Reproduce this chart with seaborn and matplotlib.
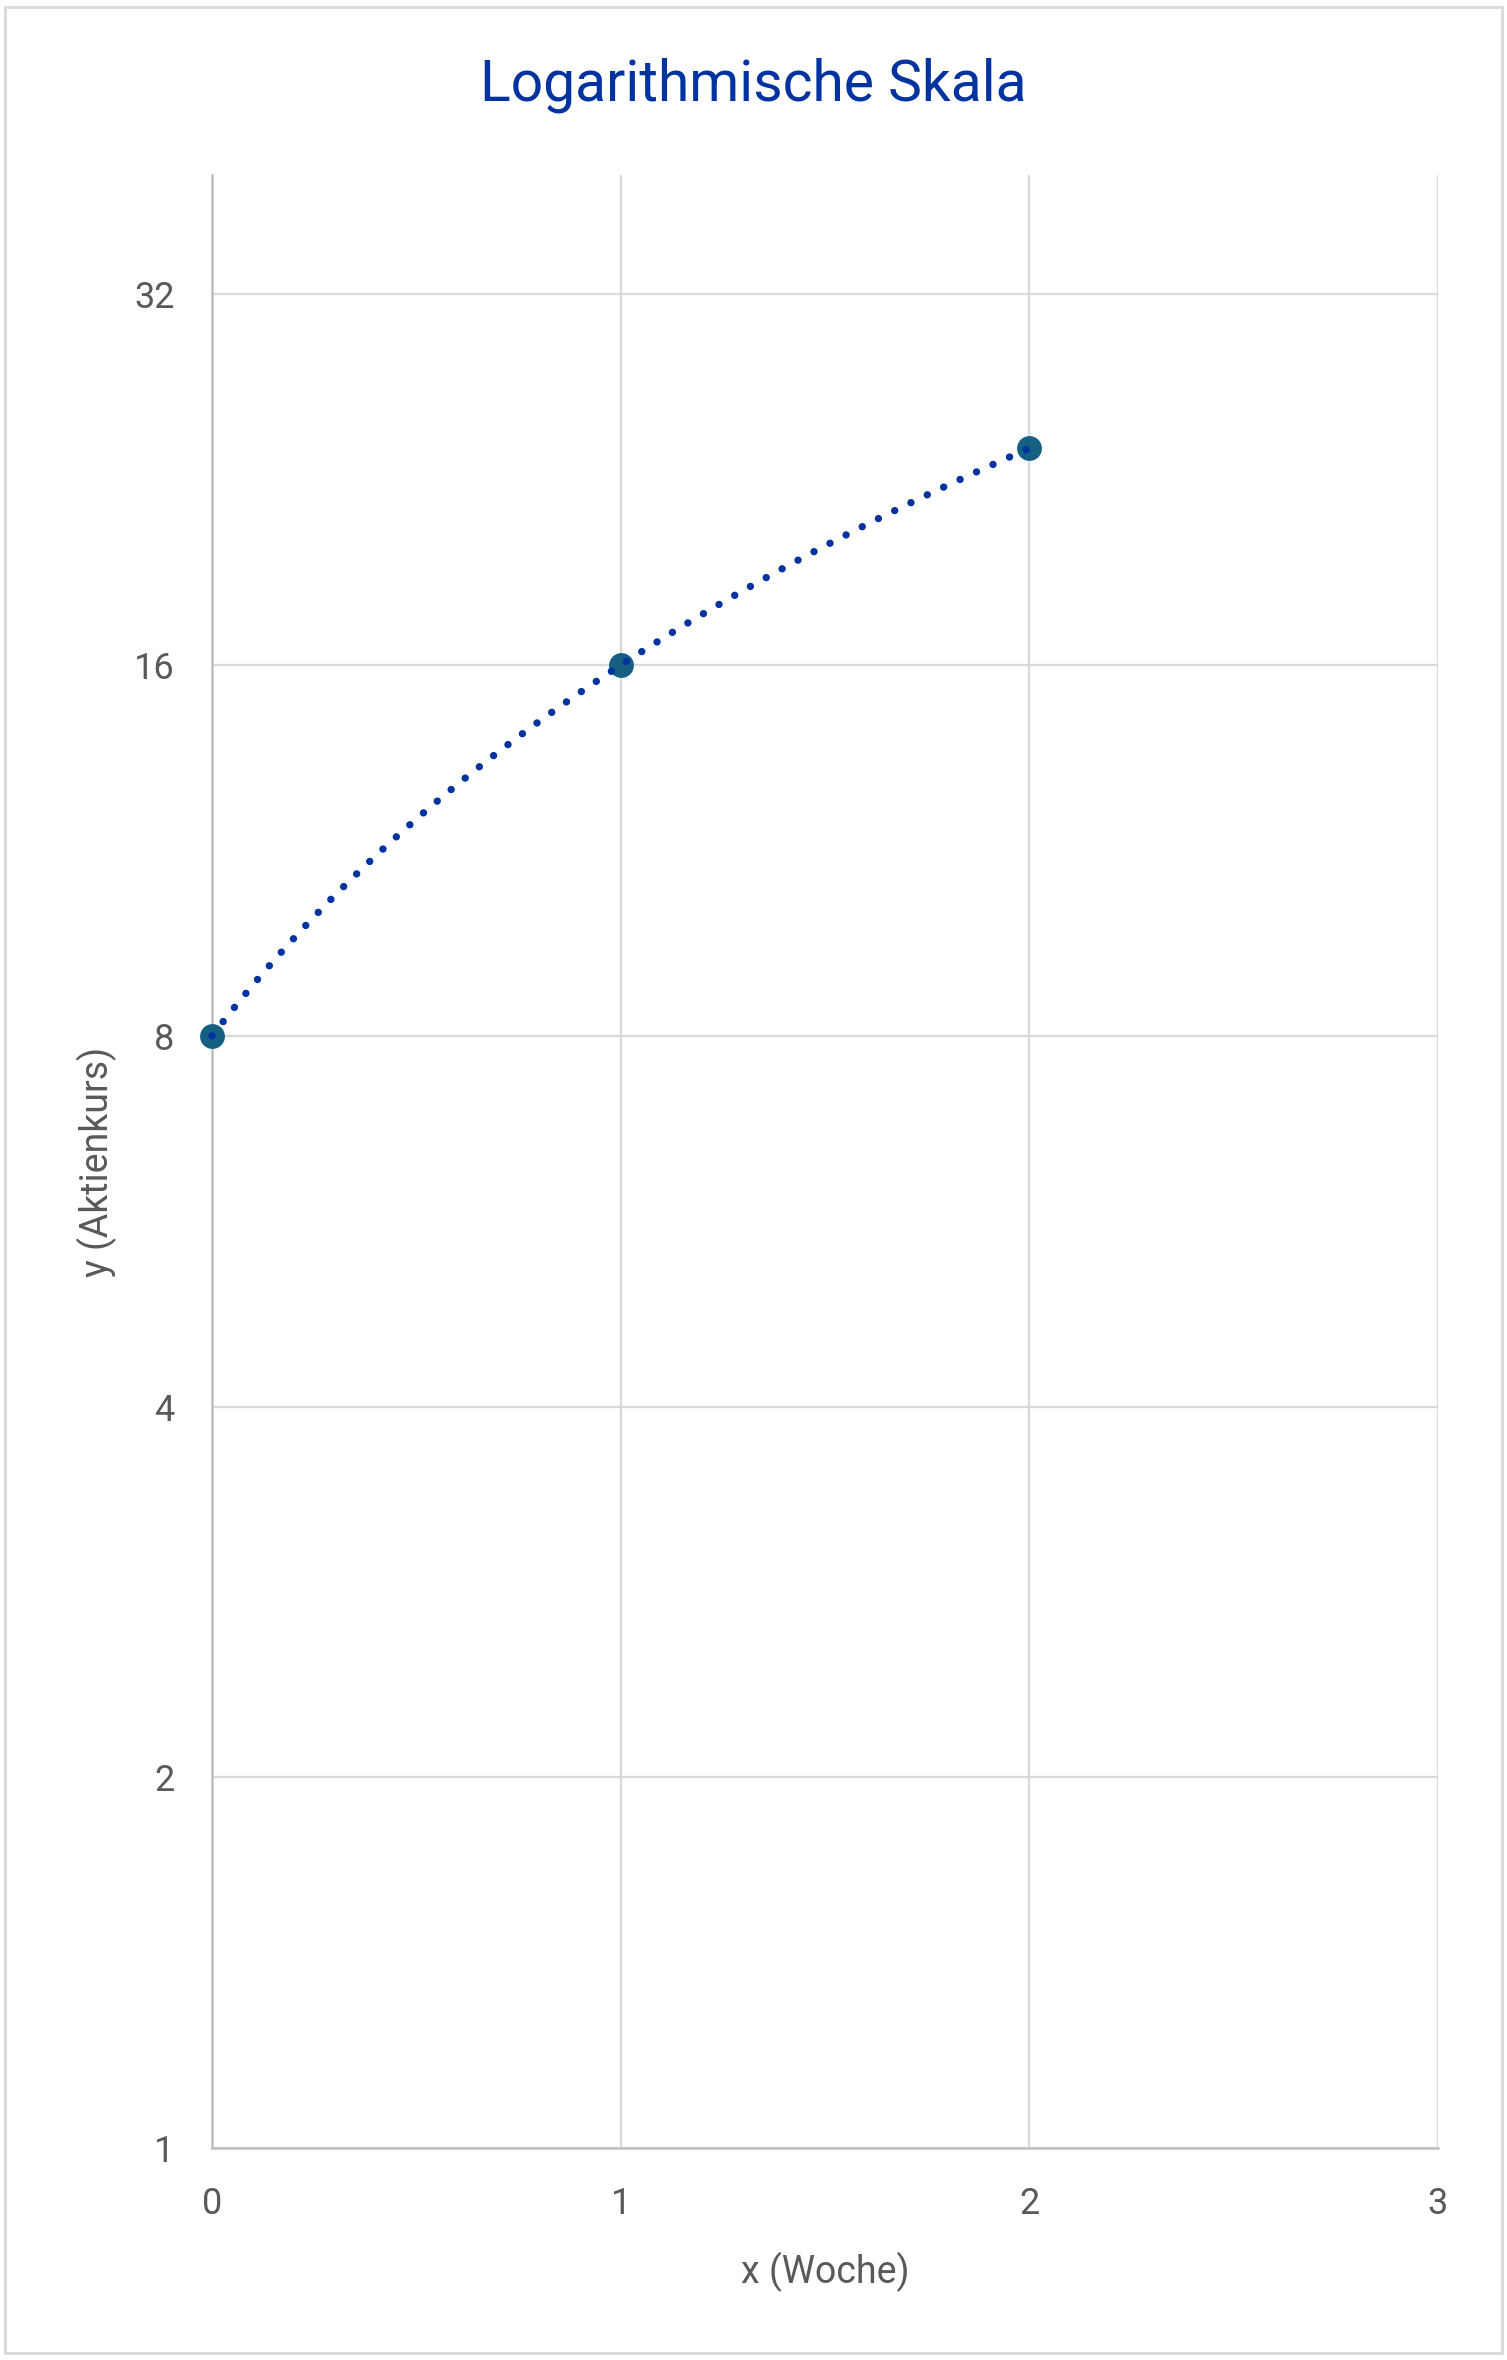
import matplotlib
matplotlib.use("Agg")
import matplotlib.pyplot as plt
import matplotlib.patches as patches
import seaborn as sns
import pandas as pd
import numpy as np

# data
weeks = [0, 1, 2]
prices = [8, 16, 24]
y_ticks = [1, 2, 4, 8, 16, 32]
x_ticks = [0, 1, 2, 3]

title_color = "#0033A0"
line_color = "#0033A0"
marker_color = "#156082"
text_color = "#595959"
grid_color = "#D9D9D9"

sns.set_theme(style="whitegrid")
plt.rcParams["font.family"] = ["Roboto", "DejaVu Sans"]

# Excel-style smoothed line: Catmull-Rom through the points in data space,
# then shown on the log axis (so it bends there)
px = np.array(weeks, dtype=float)
py = np.array(prices, dtype=float)
ext_x = np.concatenate([[2 * px[0] - px[1]], px, [2 * px[-1] - px[-2]]])
ext_y = np.concatenate([[2 * py[0] - py[1]], py, [2 * py[-1] - py[-2]]])
sx, sy = [], []
t = np.linspace(0, 1, 80)
for i in range(1, len(ext_x) - 2):
    p0, p1, p2, p3 = ext_x[i - 1:i + 3]
    q0, q1, q2, q3 = ext_y[i - 1:i + 3]
    cx = 0.5 * (2 * p1 + (-p0 + p2) * t + (2 * p0 - 5 * p1 + 4 * p2 - p3) * t**2 + (-p0 + 3 * p1 - 3 * p2 + p3) * t**3)
    cy = 0.5 * (2 * q1 + (-q0 + q2) * t + (2 * q0 - 5 * q1 + 4 * q2 - q3) * t**2 + (-q0 + 3 * q1 - 3 * q2 + q3) * t**3)
    sx.extend(cx)
    sy.extend(cy)
smooth = pd.DataFrame({"Woche": sx, "Kurs": sy})
points = pd.DataFrame({"Woche": weeks, "Kurs": prices})

fig = plt.figure(figsize=(15.07, 23.6), dpi=100)
ax = fig.add_axes([0.1407, 0.0898, 0.9542 - 0.1407, 0.9258 - 0.0898])

sns.scatterplot(data=points, x="Woche", y="Kurs", ax=ax, s=320, color=marker_color,
                edgecolor=marker_color, linewidth=0, zorder=3, clip_on=False)
sns.lineplot(data=smooth, x="Woche", y="Kurs", ax=ax, sort=False, color=line_color,
             linewidth=5.3, linestyle=(0, (0.01, 2.45)), dash_capstyle="round",
             zorder=4, clip_on=False)

ax.set_yscale("log", base=2)
ax.set_ylim(1, 40)
ax.set_xlim(0, 3)
ax.set_yticks(y_ticks)
ax.set_yticklabels([str(v) for v in y_ticks])
ax.minorticks_off()
ax.set_xticks(x_ticks)
ax.set_xticklabels([str(v) for v in x_ticks])

ax.grid(True, color=grid_color, linewidth=1.6)
for side in ["top", "right"]:
    ax.spines[side].set_visible(False)
ax.spines["left"].set_color("#BFBFBF")
ax.spines["left"].set_linewidth(1.8)
ax.spines["bottom"].set_color("#BFBFBF")
ax.spines["bottom"].set_linewidth(1.8)

ax.tick_params(axis="both", length=0, labelsize=26, labelcolor=text_color)
ax.tick_params(axis="y", pad=27)
ax.tick_params(axis="x", pad=27)

ax.set_xlabel("x (Woche)", fontsize=27, color=text_color, labelpad=22)
ax.set_ylabel("y (Aktienkurs)", fontsize=27, color=text_color, va="center")
ax.yaxis.set_label_coords(-0.094, 0.5)

fig.suptitle("Logarithmische Skala", fontsize=41, color=title_color, y=0.964, va="center")

fig.patches.append(patches.Rectangle((0.003, 0.003), 0.994, 0.994, transform=fig.transFigure,
                                     fill=False, edgecolor="#D9D9D9", linewidth=2))

fig.savefig("out.png", dpi=100, facecolor="white")
